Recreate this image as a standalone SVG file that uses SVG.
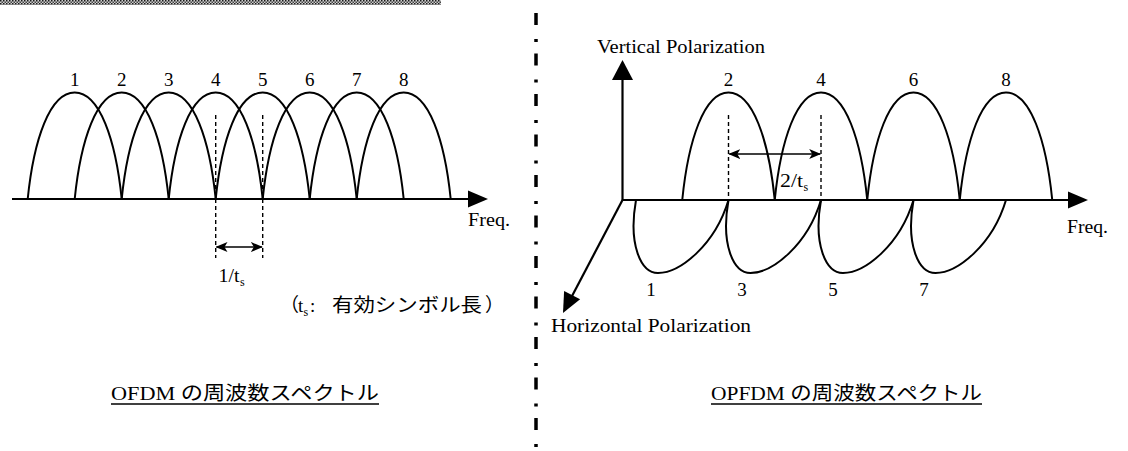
<svg xmlns="http://www.w3.org/2000/svg" xmlns:xlink="http://www.w3.org/1999/xlink" width="1128" height="451" viewBox="0 0 1128 451">
<style>
  .curve { fill: none; stroke: #000; stroke-width: 2; }
  .axis { fill: none; stroke: #000; stroke-width: 2.2; }
  .dash { fill: none; stroke: #000; stroke-width: 1.4; stroke-dasharray: 4 3; }
  .dim { fill: none; stroke: #000; stroke-width: 1.6; }
  .t { font-family: "Liberation Serif", "Noto Sans CJK JP", serif; font-size: 19px; fill: #000; }
  .title { font-family: "Liberation Serif", "Noto Sans CJK JP", serif; font-size: 19.5px; fill: #000; }
  .sub { font-family: "Liberation Serif", serif; font-size: 12px; fill: #000; }
  .num { font-family: "Liberation Serif", serif; font-size: 19px; fill: #000; text-anchor: middle; }
  .jp { font-family: "Noto Sans CJK JP", sans-serif; font-size: 19px; fill: #000; }
  .ul { stroke: #000; stroke-width: 1.3; }
</style>
<defs>
  <pattern id="hatch" width="3" height="3" patternUnits="userSpaceOnUse">
    <rect width="3" height="3" fill="#cfcfcf"/>
    <rect width="1.5" height="1.5" fill="#1a1a1a"/>
    <rect x="1.5" y="1.5" width="1.5" height="1.5" fill="#444"/>
  </pattern>
  <path id="lobe" d="M0,0 C6,-59 22,-106.5 47,-106.5 C72,-106.5 88,-59 94,0"/>
  <path id="vlobe" d="M0,0 C6,-60 22,-107.5 46.25,-107.5 C70.5,-107.5 86.5,-60 92.5,0"/>
  <path id="hlobe" d="M0,0 C-8,45 5,73 22,73 C44,73 79,45 92.5,0"/>
  <marker id="head" viewBox="0 0 12 10" refX="11" refY="5" markerWidth="12" markerHeight="10" markerUnits="userSpaceOnUse" orient="auto-start-reverse">
    <path d="M0,0 L12,5 L0,10 L3,5 z" fill="#000"/>
  </marker>
</defs>

<g id="top-band">
  <rect x="0" y="0" width="441" height="5" fill="url(#hatch)"/>
</g>

<g id="divider">
  <line x1="536" y1="13" x2="536" y2="451" stroke="#000" stroke-width="3.5" stroke-dasharray="12 14 3 11.5"/>
</g>

<g id="ofdm-spectrum">
  <g id="ofdm-lobes" class="curve">
    <use xlink:href="#lobe" x="27.7" y="199"/>
    <use xlink:href="#lobe" x="74.7" y="199"/>
    <use xlink:href="#lobe" x="121.7" y="199"/>
    <use xlink:href="#lobe" x="168.7" y="199"/>
    <use xlink:href="#lobe" x="215.7" y="199"/>
    <use xlink:href="#lobe" x="262.7" y="199"/>
    <use xlink:href="#lobe" x="309.7" y="199"/>
    <use xlink:href="#lobe" x="356.7" y="199"/>
  </g>
  <g id="ofdm-numbers">
    <text class="num" x="74.7" y="86">1</text>
    <text class="num" x="121.7" y="86">2</text>
    <text class="num" x="168.7" y="86">3</text>
    <text class="num" x="215.7" y="86">4</text>
    <text class="num" x="262.7" y="86">5</text>
    <text class="num" x="309.7" y="86">6</text>
    <text class="num" x="356.7" y="86">7</text>
    <text class="num" x="403.7" y="86">8</text>
  </g>
  <g id="ofdm-axis">
    <line class="axis" x1="12" y1="199" x2="470" y2="199"/>
    <path d="M468,190.5 L488,199 L468,207.5 z" fill="#000"/>
    <text class="t" x="468" y="226" textLength="42" lengthAdjust="spacingAndGlyphs">Freq.</text>
  </g>
  <g id="ofdm-spacing">
    <line class="dash" x1="215.7" y1="115" x2="215.7" y2="258"/>
    <line class="dash" x1="262.7" y1="115" x2="262.7" y2="258"/>
    <line class="dim" x1="216.5" y1="247" x2="261.9" y2="247" marker-start="url(#head)" marker-end="url(#head)"/>
    <text class="t" x="218.6" y="282" textLength="21" lengthAdjust="spacingAndGlyphs">1/t</text>
    <text class="sub" x="240" y="286">s</text>
  </g>
  <g id="ofdm-note">
    <text class="jp" x="280" y="312">（</text>
    <text class="t" x="298" y="312">t</text>
    <text class="sub" x="303.5" y="316">s</text>
    <text class="t" x="310" y="312">:</text>
    <text class="jp" x="332" y="312" textLength="150" lengthAdjust="spacingAndGlyphs">有効シンボル長</text>
    <text class="jp" x="485" y="312">）</text>
  </g>
  <g id="ofdm-title">
    <text class="title" x="111" y="400" textLength="268" lengthAdjust="spacingAndGlyphs">OFDM の周波数スペクトル</text>
    <line class="ul" x1="111" y1="404" x2="379" y2="404"/>
  </g>
</g>

<g id="opfdm-spectrum">
  <g id="opfdm-axes">
    <line class="axis" x1="622.5" y1="200" x2="622.5" y2="78"/>
    <path d="M612,80 L622.5,60 L633,80 z" fill="#000"/>
    <line class="axis" x1="622.5" y1="200" x2="1070" y2="200"/>
    <path d="M1068,191.5 L1088,200 L1068,208.5 z" fill="#000"/>
    <line class="axis" x1="622.5" y1="200" x2="571" y2="298"/>
    <path d="M563,313 L580.1,299.3 L564.1,291.1 z" fill="#000"/>
    <text class="t" x="597" y="53" textLength="168" lengthAdjust="spacingAndGlyphs">Vertical Polarization</text>
    <text class="t" x="1067" y="233" textLength="41" lengthAdjust="spacingAndGlyphs">Freq.</text>
    <text class="t" x="551" y="332" textLength="200" lengthAdjust="spacingAndGlyphs">Horizontal Polarization</text>
  </g>
  <g id="vertical-lobes" class="curve">
    <use xlink:href="#vlobe" x="682.25" y="200"/>
    <use xlink:href="#vlobe" x="774.75" y="200"/>
    <use xlink:href="#vlobe" x="867.25" y="200"/>
    <use xlink:href="#vlobe" x="959.75" y="200"/>
  </g>
  <g id="horizontal-lobes" class="curve">
    <use xlink:href="#hlobe" x="636" y="200"/>
    <use xlink:href="#hlobe" x="728.5" y="200"/>
    <use xlink:href="#hlobe" x="821" y="200"/>
    <use xlink:href="#hlobe" x="913.5" y="200"/>
  </g>
  <g id="opfdm-numbers">
    <text class="num" x="728.5" y="86">2</text>
    <text class="num" x="821" y="86">4</text>
    <text class="num" x="913.5" y="86">6</text>
    <text class="num" x="1006" y="86">8</text>
    <text class="num" x="651" y="296">1</text>
    <text class="num" x="742" y="296">3</text>
    <text class="num" x="833" y="296">5</text>
    <text class="num" x="924" y="296">7</text>
  </g>
  <g id="opfdm-spacing">
    <line class="dash" x1="728.5" y1="115" x2="728.5" y2="200"/>
    <line class="dash" x1="821" y1="115" x2="821" y2="200"/>
    <line class="dim" x1="729.3" y1="154" x2="820.2" y2="154" marker-start="url(#head)" marker-end="url(#head)"/>
    <text class="t" x="780" y="187" textLength="23" lengthAdjust="spacingAndGlyphs">2/t</text>
    <text class="sub" x="803.5" y="191">s</text>
  </g>
  <g id="opfdm-title">
    <text class="title" x="711" y="400" textLength="271" lengthAdjust="spacingAndGlyphs">OPFDM の周波数スペクトル</text>
    <line class="ul" x1="711" y1="404" x2="982" y2="404"/>
  </g>
</g>
</svg>
